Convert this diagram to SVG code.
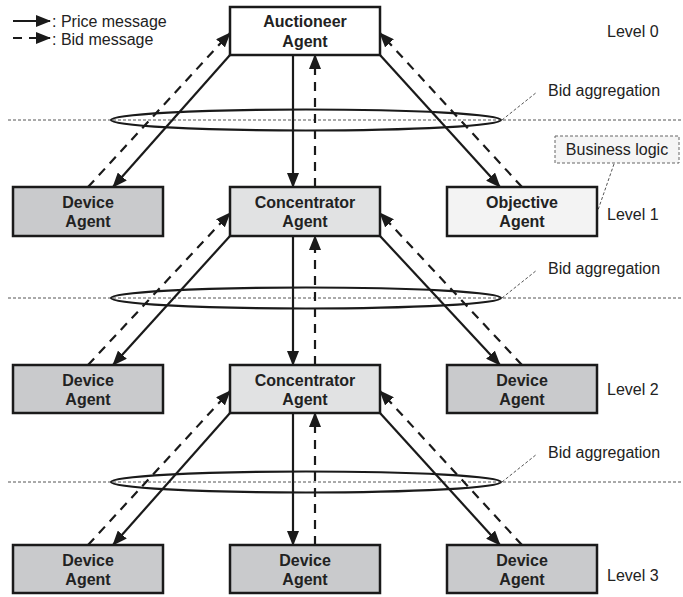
<svg xmlns="http://www.w3.org/2000/svg" width="683" height="597" viewBox="0 0 683 597">
<defs>
<marker id="ah" markerUnits="userSpaceOnUse" markerWidth="15" markerHeight="12" refX="14" refY="6" orient="auto">
<path d="M0,0 L15,6 L0,12 Z" fill="#1a1a1a"/>
</marker>
<style>
.box{stroke:#1a1a1a;stroke-width:2.5}
.dev{fill:#c9cacc}
.con{fill:#e1e2e3}
.obj{fill:#f3f3f3}
.auc{fill:#ffffff}
.bt{font-family:"Liberation Sans",Arial,sans-serif;font-weight:bold;font-size:16px;fill:#222;text-anchor:middle}
.lt{font-family:"Liberation Sans",Arial,sans-serif;font-size:16px;fill:#222}
.sol{stroke:#1a1a1a;stroke-width:2.2;fill:none;marker-end:url(#ah)}
.dsh{stroke:#1a1a1a;stroke-width:2.2;fill:none;stroke-dasharray:9,7;marker-end:url(#ah)}
.lvl{stroke:#555;stroke-width:1;stroke-dasharray:3,2;fill:none}
.lead{stroke:#555;stroke-width:1;stroke-dasharray:3,2;fill:none}
.ell{stroke:#1a1a1a;stroke-width:2.2;fill:none}
</style>
</defs>
<rect width="683" height="597" fill="#ffffff"/>

<g id="legend">
<line class="sol" x1="13" y1="21" x2="50" y2="21"/>
<line class="dsh" x1="13" y1="38" x2="50" y2="38" stroke-dasharray="8,7"/>
<text class="lt" x="52" y="27">: Price message</text>
<text class="lt" x="52" y="45">: Bid message</text>
</g>

<g id="aggregation">
<line class="lvl" x1="8" y1="120" x2="683" y2="120"/>
<line class="lvl" x1="8" y1="298" x2="683" y2="298"/>
<line class="lvl" x1="8" y1="482" x2="683" y2="482"/>
<ellipse class="ell" cx="306" cy="120" rx="195" ry="10.5"/>
<ellipse class="ell" cx="306" cy="298" rx="195" ry="10.5"/>
<ellipse class="ell" cx="306" cy="482" rx="195" ry="10.5"/>
<line class="lead" x1="502" y1="120" x2="537" y2="92"/>
<line class="lead" x1="502" y1="298" x2="537" y2="270"/>
<line class="lead" x1="502" y1="482" x2="537" y2="454"/>
<text class="lt" x="548" y="96">Bid aggregation</text>
<text class="lt" x="548" y="274">Bid aggregation</text>
<text class="lt" x="548" y="458">Bid aggregation</text>
</g>

<g id="levels">
<text class="lt" x="607" y="37">Level 0</text>
<text class="lt" x="607" y="220">Level 1</text>
<text class="lt" x="607" y="395">Level 2</text>
<text class="lt" x="607" y="581">Level 3</text>
</g>

<g id="business-logic">
<rect x="555" y="136" width="124" height="27" fill="#f5f5f5" stroke="#666" stroke-width="1" stroke-dasharray="3,2"/>
<text class="lt" x="617" y="155" text-anchor="middle" font-size="15">Business logic</text>
<line class="lead" x1="614" y1="164" x2="598" y2="210"/>
</g>

<g id="connectors">
<line class="sol" x1="293" y1="55" x2="293" y2="187"/>
<line class="dsh" x1="315" y1="187" x2="315" y2="55"/>
<line class="sol" x1="230" y1="55" x2="113" y2="187"/>
<line class="dsh" x1="88" y1="187" x2="230" y2="33"/>
<line class="sol" x1="380" y1="55" x2="500" y2="187"/>
<line class="dsh" x1="522" y1="187" x2="380" y2="33"/>
<line class="sol" x1="293" y1="236" x2="293" y2="365"/>
<line class="dsh" x1="315" y1="365" x2="315" y2="236"/>
<line class="sol" x1="230" y1="236" x2="113" y2="365"/>
<line class="dsh" x1="88" y1="365" x2="230" y2="213"/>
<line class="sol" x1="380" y1="236" x2="500" y2="365"/>
<line class="dsh" x1="522" y1="365" x2="380" y2="213"/>
<line class="sol" x1="293" y1="413" x2="293" y2="545"/>
<line class="dsh" x1="315" y1="545" x2="315" y2="413"/>
<line class="sol" x1="230" y1="413" x2="113" y2="545"/>
<line class="dsh" x1="88" y1="545" x2="230" y2="391"/>
<line class="sol" x1="380" y1="413" x2="500" y2="545"/>
<line class="dsh" x1="522" y1="545" x2="380" y2="391"/>
</g>

<g id="auctioneer">
<rect class="box auc" x="230" y="7" width="150" height="48"/>
<text class="bt" x="305" y="27">Auctioneer</text>
<text class="bt" x="305" y="47">Agent</text>
</g>

<g id="device-l1">
<rect class="box dev" x="13" y="187" width="150" height="49"/>
<text class="bt" x="88" y="208">Device</text>
<text class="bt" x="88" y="227">Agent</text>
</g>
<g id="concentrator-l1">
<rect class="box con" x="230" y="187" width="150" height="49"/>
<text class="bt" x="305" y="208">Concentrator</text>
<text class="bt" x="305" y="227">Agent</text>
</g>
<g id="objective-l1">
<rect class="box obj" x="447" y="187" width="150" height="49"/>
<text class="bt" x="522" y="208">Objective</text>
<text class="bt" x="522" y="227">Agent</text>
</g>

<g id="device-l2-left">
<rect class="box dev" x="13" y="365" width="150" height="48"/>
<text class="bt" x="88" y="386">Device</text>
<text class="bt" x="88" y="405">Agent</text>
</g>
<g id="concentrator-l2">
<rect class="box con" x="230" y="365" width="150" height="48"/>
<text class="bt" x="305" y="386">Concentrator</text>
<text class="bt" x="305" y="405">Agent</text>
</g>
<g id="device-l2-right">
<rect class="box dev" x="447" y="365" width="150" height="48"/>
<text class="bt" x="522" y="386">Device</text>
<text class="bt" x="522" y="405">Agent</text>
</g>

<g id="device-l3-left">
<rect class="box dev" x="13" y="545" width="150" height="48"/>
<text class="bt" x="88" y="566">Device</text>
<text class="bt" x="88" y="585">Agent</text>
</g>
<g id="device-l3-mid">
<rect class="box dev" x="230" y="545" width="150" height="48"/>
<text class="bt" x="305" y="566">Device</text>
<text class="bt" x="305" y="585">Agent</text>
</g>
<g id="device-l3-right">
<rect class="box dev" x="447" y="545" width="150" height="48"/>
<text class="bt" x="522" y="566">Device</text>
<text class="bt" x="522" y="585">Agent</text>
</g>
</svg>
